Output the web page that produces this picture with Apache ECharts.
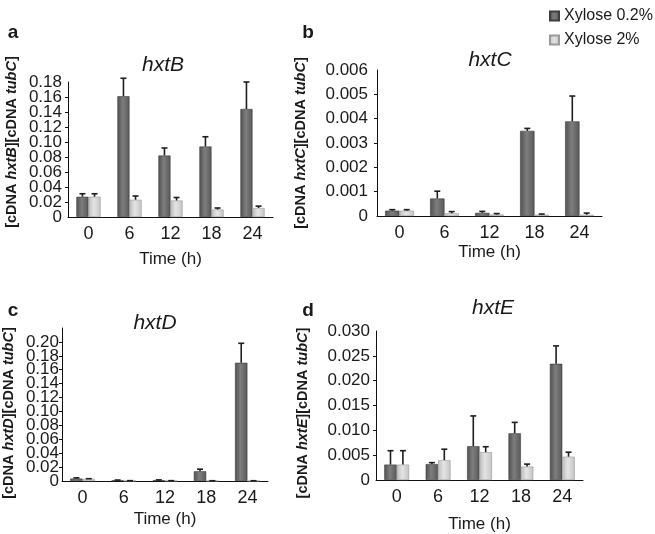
<!DOCTYPE html>
<html>
<head>
<meta charset="utf-8">
<script src="https://cdn.jsdelivr.net/npm/echarts@6/dist/echarts.min.js"></script>
<style>
  html, body { margin: 0; padding: 0; background: #fff; }
  #chart { width: 655px; height: 534px; }
</style>
</head>
<body>
<div id="chart"></div>
<script>
// time points (h)
var categories = ['0', '6', '12', '18', '24'];
var seriesNames = ['Xylose 0.2%', 'Xylose 2%'];

// hxtB  (value, top of error bar)
var hxtB_low = [0.027, 0.161, 0.082, 0.094, 0.144];
var hxtB_lowErr = [0.031, 0.185, 0.092, 0.107, 0.180];
var hxtB_high = [0.027, 0.023, 0.022, 0.010, 0.012];
var hxtB_highErr = [0.031, 0.028, 0.026, 0.012, 0.0145];

// hxtC
var hxtC_low = [0.00022, 0.00072, 0.00013, 0.0035, 0.00389];
var hxtC_lowErr = [0.00026, 0.00102, 0.00019, 0.0036, 0.00493];
var hxtC_high = [0.00022, 0.00011, 0.00006, 0.00005, 0.00005];
var hxtC_highErr = [0.00026, 0.00018, 0.0001, 0.00008, 0.00012];

// hxtD
var hxtD_low = [0.0035, 0.001, 0.0012, 0.014, 0.170];
var hxtD_lowErr = [0.0045, 0.0014, 0.0016, 0.017, 0.198];
var hxtD_high = [0.003, 0.0004, 0.0004, 0.0003, 0.0003];
var hxtD_highErr = [0.0033, 0.0005, 0.0005, 0.0004, 0.0004];

// hxtE
var hxtE_low = [0.0031, 0.0032, 0.0068, 0.0094, 0.0234];
var hxtE_lowErr = [0.0059, 0.0035, 0.0129, 0.0116, 0.0270];
var hxtE_high = [0.0031, 0.0040, 0.0056, 0.0027, 0.0047];
var hxtE_highErr = [0.0059, 0.0062, 0.0067, 0.0032, 0.0056];

var FONT = '"Liberation Sans", Arial, sans-serif';
var TXT = '#1a1a1a';

var chart = echarts.init(document.getElementById('chart'));

var darkFill = new echarts.graphic.LinearGradient(0, 0, 1, 0, [
  {offset: 0, color: '#505050'}, {offset: 0.45, color: '#7e7e7e'}, {offset: 1, color: '#585858'}
]);
var lightFill = new echarts.graphic.LinearGradient(0, 0, 1, 0, [
  {offset: 0, color: '#bdbdbd'}, {offset: 0.45, color: '#e4e4e4'}, {offset: 1, color: '#c4c4c4'}
]);

// error bar (upper half only) drawn at the centre of the bar
function errorBar(side, gap) {
  return function(params, api) {
    var band = api.size([1, 0])[0];
    var off = side * band * (1 - gap) / 4;
    var p0 = api.coord([api.value(0), api.value(1)]);
    var p1 = api.coord([api.value(0), api.value(2)]);
    var x = p0[0] + off;
    var st = {stroke: '#1e1e1e', lineWidth: 1.6};
    return {
      type: 'group',
      children: [
        {type: 'line', shape: {x1: x, y1: p0[1], x2: x, y2: p1[1]}, style: st},
        {type: 'line', shape: {x1: x - 3, y1: p1[1], x2: x + 3, y2: p1[1]}, style: st}
      ]
    };
  };
}

function pairs(vals, errs) {
  var out = [];
  for (var i = 0; i < vals.length; i++) out.push([i, vals[i], errs[i]]);
  return out;
}

var panels = [
  {grid: {left: 68, top: 82, width: 205, height: 135}, max: 0.18, interval: 0.02, dec: 2, gap: 0.41, nameGap: 34, lblMargin: 6,
   low: hxtB_low, lowErr: hxtB_lowErr, high: hxtB_high, highErr: hxtB_highErr},
  {grid: {left: 377, top: 70, width: 225, height: 146}, max: 0.006, interval: 0.001, dec: 3, gap: 0.36, nameGap: 28, lblMargin: 9,
   low: hxtC_low, lowErr: hxtC_lowErr, high: hxtC_high, highErr: hxtC_highErr},
  {grid: {left: 62, top: 328, width: 206, height: 153}, max: 0.22, interval: 0.02, dec: 2, gap: 0.40, nameGap: 30, lblMargin: 3, hideMax: true,
   low: hxtD_low, lowErr: hxtD_lowErr, high: hxtD_high, highErr: hxtD_highErr},
  {grid: {left: 376, top: 331, width: 207, height: 150}, max: 0.030, interval: 0.005, dec: 3, gap: 0.40, nameGap: 36, lblMargin: 6,
   low: hxtE_low, lowErr: hxtE_lowErr, high: hxtE_high, highErr: hxtE_highErr}
];

function fmt(dec) {
  return function(v) { return v === 0 ? '0' : v.toFixed(dec); };
}

var grids = [], xAxes = [], yAxes = [], endAxes = [], series = [];
panels.forEach(function(p, k) {
  grids.push(p.grid);
  xAxes.push({
    type: 'category', gridIndex: k, data: categories,
    name: 'Time (h)', nameLocation: 'middle', nameGap: p.nameGap,
    nameTextStyle: {fontFamily: FONT, fontSize: 17, color: TXT},
    axisLine: {lineStyle: {color: '#111', width: 1}},
    axisTick: {length: 4, lineStyle: {color: '#111'}},
    axisLabel: {fontFamily: FONT, fontSize: 18, color: TXT, margin: 8}
  });
  // inner tick labels; the end labels come from the overlay axis below
  // (dense labels would otherwise be dropped next to the min/max ones)
  yAxes.push({
    type: 'value', gridIndex: k, position: 'left', min: 0, max: p.max, interval: p.interval,
    splitLine: {show: false},
    axisLine: {show: true, lineStyle: {color: '#111', width: 1}},
    axisTick: {show: true, length: 3, lineStyle: {color: '#111'}},
    axisLabel: {
      fontFamily: FONT, fontSize: 17, color: TXT, margin: p.lblMargin,
      hideOverlap: false, showMinLabel: false, showMaxLabel: false,
      formatter: fmt(p.dec)
    }
  });
  endAxes.push({
    type: 'value', gridIndex: k, position: 'left', min: 0, max: p.max, interval: p.max,
    splitLine: {show: false}, axisLine: {show: false}, axisTick: {show: false},
    axisLabel: {
      fontFamily: FONT, fontSize: 17, color: TXT, margin: p.lblMargin,
      showMinLabel: true, showMaxLabel: !p.hideMax,
      formatter: fmt(p.dec)
    }
  });
  series.push({
    name: seriesNames[0], type: 'bar', xAxisIndex: k, yAxisIndex: k,
    data: p.low, barGap: '0%', barCategoryGap: Math.round(p.gap * 100) + '%',
    itemStyle: {color: darkFill, borderColor: '#3e3e3e', borderWidth: 0.6}
  });
  series.push({
    name: seriesNames[1], type: 'bar', xAxisIndex: k, yAxisIndex: k,
    data: p.high,
    itemStyle: {color: lightFill, borderColor: '#9a9a9a', borderWidth: 0.6}
  });
  series.push({
    type: 'custom', xAxisIndex: k, yAxisIndex: k, z: 5,
    renderItem: errorBar(-1, p.gap), data: pairs(p.low, p.lowErr), silent: true
  });
  series.push({
    type: 'custom', xAxisIndex: k, yAxisIndex: k, z: 5,
    renderItem: errorBar(1, p.gap), data: pairs(p.high, p.highErr), silent: true
  });
});

function plainText(txt, x, y, size, weight, style) {
  return {
    type: 'text', x: x, y: y,
    style: {text: txt, fontFamily: FONT, fontSize: size, fontWeight: weight || 'normal',
            fontStyle: style || 'normal', fill: TXT, textAlign: 'center', textVerticalAlign: 'middle'}
  };
}

function yName(gene, x, y) {
  return {
    type: 'text', x: x, y: y, rotation: Math.PI / 2,
    style: {
      text: '[cDNA {i|' + gene + '}][cDNA {i|tubC}]',
      fontFamily: FONT, fontSize: 14.5, fontWeight: 'bold', fill: TXT,
      textAlign: 'center', textVerticalAlign: 'middle',
      rich: {i: {fontFamily: FONT, fontSize: 14.5, fontWeight: 'bold', fontStyle: 'italic', color: TXT}}
    }
  };
}

var option = {
  animation: false,
  backgroundColor: '#fff',
  legend: {
    data: seriesNames, orient: 'vertical', left: 544, top: 3,
    itemWidth: 9, itemHeight: 9, itemGap: 8, icon: 'rect',
    textStyle: {fontFamily: FONT, fontSize: 16, color: TXT}
  },
  grid: grids,
  xAxis: xAxes,
  yAxis: yAxes.concat(endAxes),
  series: series,
  graphic: [
    plainText('a', 13, 33, 19, 'bold'),
    plainText('b', 308, 33, 19, 'bold'),
    plainText('c', 13, 311, 19, 'bold'),
    plainText('d', 308, 311, 19, 'bold'),
    plainText('hxtB', 163, 65, 21, 'normal', 'italic'),
    plainText('hxtC', 490, 60, 21, 'normal', 'italic'),
    plainText('hxtD', 155, 323, 21, 'normal', 'italic'),
    plainText('hxtE', 493, 308, 21, 'normal', 'italic'),
    yName('hxtB', 12, 142),
    yName('hxtC', 301, 143),
    yName('hxtD', 9, 413),
    yName('hxtE', 303, 413)
  ]
};

chart.setOption(option);
</script>
</body>
</html>
